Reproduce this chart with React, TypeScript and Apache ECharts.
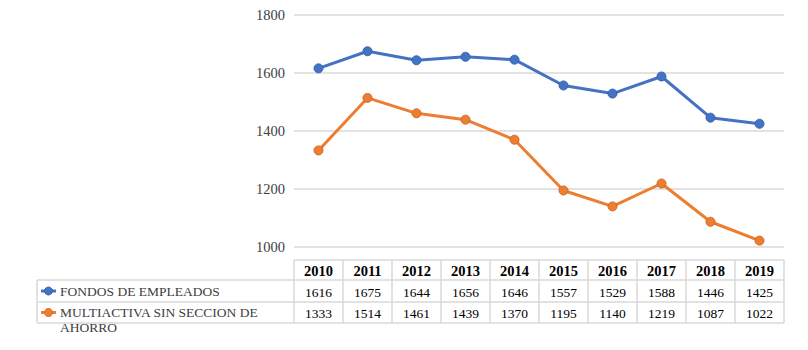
import React, { useEffect, useRef } from "react";
import * as echarts from "echarts";

const years = ["2010", "2011", "2012", "2013", "2014", "2015", "2016", "2017", "2018", "2019"];
const fondos = [1616, 1675, 1644, 1656, 1646, 1557, 1529, 1588, 1446, 1425];
const multiactiva = [1333, 1514, 1461, 1439, 1370, 1195, 1140, 1219, 1087, 1022];
const seriesNames = ["FONDOS DE EMPLEADOS", "MULTIACTIVA SIN SECCION DE\nAHORRO"];
const seriesColors = ["#4472C4", "#ED7D31"];
const seriesBorders = ["#3A63AD", "#D06A25"];

const FONT = "Liberation Serif";

export default function App() {
  const ref = useRef<HTMLDivElement>(null);
  useEffect(() => {
    document.body.style.margin = "0";
    const chart = echarts.init(ref.current!, null, { renderer: "svg" });
    const gridLeft = 294;
    const gridRight = 784;
    const colW = (gridRight - gridLeft) / years.length;
    const tableLeft = 37;
    const rowY = [260, 280, 302, 323];
    const lineColor = "#d9d9d9";
    const g: any[] = [];
    g.push({ type: "line", shape: { x1: gridLeft, y1: rowY[0], x2: gridRight, y2: rowY[0] }, style: { stroke: lineColor, lineWidth: 1.5 } });
    for (let i = 1; i < rowY.length; i++) {
      g.push({ type: "line", shape: { x1: tableLeft, y1: rowY[i], x2: gridRight, y2: rowY[i] }, style: { stroke: lineColor, lineWidth: 1.5 } });
    }
    g.push({ type: "line", shape: { x1: tableLeft, y1: rowY[1], x2: tableLeft, y2: rowY[3] }, style: { stroke: lineColor, lineWidth: 1.5 } });
    for (let c = 0; c <= years.length; c++) {
      const x = gridLeft + c * colW;
      g.push({ type: "line", shape: { x1: x, y1: rowY[0], x2: x, y2: rowY[3] }, style: { stroke: lineColor, lineWidth: 1.5 } });
    }
    const rows = [fondos, multiactiva];
    years.forEach((y, c) => {
      const cx = gridLeft + (c + 0.5) * colW;
      g.push({ type: "text", x: cx, y: (rowY[0] + rowY[1]) / 2 + 1, style: { text: y, fontFamily: FONT, fontSize: 14.5, fontWeight: "bold", fill: "#000", align: "center", verticalAlign: "middle" } });
      rows.forEach((r, ri) => {
        g.push({ type: "text", x: cx, y: (rowY[ri + 1] + rowY[ri + 2]) / 2 + 1, style: { text: String(r[c]), fontFamily: FONT, fontSize: 13.5, fill: "#000", align: "center", verticalAlign: "middle" } });
      });
    });
    seriesNames.forEach((n, ri) => {
      const cy = (rowY[ri + 1] + rowY[ri + 2]) / 2;
      g.push({ type: "line", shape: { x1: 41, y1: cy, x2: 56, y2: cy }, style: { stroke: seriesColors[ri], lineWidth: 3 } });
      g.push({ type: "circle", shape: { cx: 48.5, cy, r: 4 }, style: { fill: seriesColors[ri], stroke: seriesBorders[ri], lineWidth: 1 } });
      g.push({ type: "text", x: 60, y: cy - 7.5, style: { text: n, fontFamily: FONT, fontSize: 13.5, fill: "#404040", align: "left", verticalAlign: "top", lineHeight: 15 } });
    });

    chart.setOption({
      animation: false,
      grid: { left: gridLeft, right: 808 - gridRight, top: 15, bottom: 103 },
      xAxis: {
        type: "category",
        data: years,
        boundaryGap: true,
        axisLine: { show: false },
        axisTick: { show: false },
        axisLabel: { show: false },
      },
      yAxis: {
        type: "value",
        min: 1000,
        max: 1800,
        interval: 200,
        axisLine: { show: false },
        axisTick: { show: false },
        axisLabel: { fontFamily: FONT, fontSize: 14.5, color: "#404040", margin: 9, formatter: (v: number) => String(v) },
        splitLine: { lineStyle: { color: "#d9d9d9", width: 1.5 } },
      },
      series: rows.map((r, i) => ({
        type: "line",
        name: seriesNames[i],
        data: r,
        symbol: "circle",
        symbolSize: 9,
        lineStyle: { color: seriesColors[i], width: 3 },
        itemStyle: { color: seriesColors[i], borderColor: seriesBorders[i], borderWidth: 1 },
      })),
      graphic: g,
    });
    return () => chart.dispose();
  }, []);
  return <div ref={ref} style={{ width: 808, height: 350 }} />;
}
